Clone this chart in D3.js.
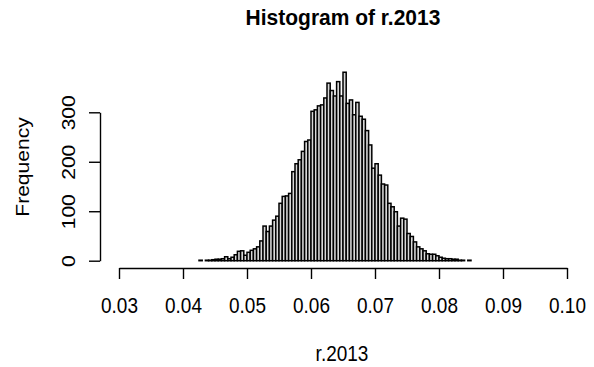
<!DOCTYPE html>
<html>
<head>
<meta charset="utf-8">
<script src="https://cdn.jsdelivr.net/npm/d3@7"></script>
<style>
  body { margin: 0; background: #fff; }
  svg text { font-family: "Liberation Sans", Arial, sans-serif; fill: #000; }
</style>
</head>
<body>
<div id="chart"></div>
<script>
// Histogram of r.2013 -- bin counts
const breakStart = 0.0425;
const binWidth = 0.0005;
const counts = [
  1, 0, 1, 1, 2, 3, 3, 4, 8, 4,
  7, 12, 19, 20, 11, 17, 21, 24, 28, 40,
  70, 59, 70, 82, 90, 116, 130, 131, 136, 180,
  196, 204, 221, 241, 244, 302, 305, 313, 315, 329,
  359, 344, 333, 362, 333, 381, 318, 325, 295, 320,
  292, 286, 263, 234, 187, 196, 173, 155, 153, 116,
  109, 99, 70, 86, 84, 55, 49, 38, 28, 24,
  20, 14, 13, 13, 10, 7, 5, 4, 4, 3,
  3, 1, 1, 0, 1
];
const xTicks = [0.03, 0.04, 0.05, 0.06, 0.07, 0.08, 0.09, 0.10];
const yTicks = [0, 100, 200, 300];

const width = 594;
const height = 367;
const stretch = 1.17; // the picture's text is taller than it is wide

const x = d3.scaleLinear().domain([0.03, 0.10]).range([119, 567]);
const y = d3.scaleLinear().domain([0, 300]).range([260.7, 112.3]);

const svg = d3.select("#chart")
  .append("svg")
  .attr("width", width)
  .attr("height", height);

// bars
const bins = counts.map((c, i) => ({
  x0: breakStart + i * binWidth,
  x1: breakStart + (i + 1) * binWidth,
  n: c
}));

svg.append("g")
  .selectAll("rect")
  .data(bins)
  .join("rect")
  .attr("x", d => x(d.x0))
  .attr("y", d => y(d.n))
  .attr("width", d => x(d.x1) - x(d.x0))
  .attr("height", d => y(0) - y(d.n))
  .attr("fill", "#d8d8d8")
  .attr("stroke", "#000")
  .attr("stroke-width", 1.5);

// x axis (R style: below the plot, detached)
const xAxis = svg.append("g")
  .attr("transform", "translate(0,268)")
  .call(d3.axisBottom(x).tickValues(xTicks).tickFormat(d3.format(".2f"))
    .tickSize(11).tickSizeOuter(0));
xAxis.select(".domain").attr("stroke-width", 1.4);
xAxis.selectAll(".tick line").attr("stroke-width", 1.4);
xAxis.selectAll(".tick text")
  .attr("font-size", 19)
  .attr("font-family", null)
  .attr("y", 0).attr("dy", null)
  .attr("transform", `translate(0,45) scale(1,${stretch})`);

// y axis with labels parallel to the axis
const yAxis = svg.append("g")
  .attr("transform", "translate(100,0)")
  .call(d3.axisLeft(y).tickValues(yTicks).tickSize(11).tickSizeOuter(0));
yAxis.select(".domain").attr("stroke-width", 1.4);
yAxis.selectAll(".tick line").attr("stroke-width", 1.4);
yAxis.selectAll(".tick text")
  .attr("font-size", 18)
  .attr("font-family", null)
  .attr("x", null).attr("dy", null)
  .attr("text-anchor", "middle")
  .attr("transform", `translate(-25,0) scale(1,${stretch}) rotate(-90)`);

// titles
svg.append("text")
  .attr("transform", "translate(343,25) scale(1,1.08)")
  .attr("text-anchor", "middle")
  .attr("font-size", 21)
  .attr("font-weight", "bold")
  .text("Histogram of r.2013");

svg.append("text")
  .attr("transform", `translate(342,361) scale(1,${stretch})`)
  .attr("text-anchor", "middle")
  .attr("font-size", 19)
  .text("r.2013");

svg.append("text")
  .attr("transform", `translate(29,167) scale(1,${stretch}) rotate(-90)`)
  .attr("text-anchor", "middle")
  .attr("font-size", 18)
  .text("Frequency");
</script>
</body>
</html>
